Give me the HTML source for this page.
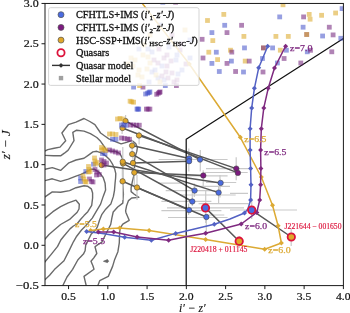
<!DOCTYPE html>
<html><head><meta charset="utf-8"><style>
html,body{margin:0;padding:0;background:#fff;}
body{width:350px;height:313px;overflow:hidden;}
svg{display:block;will-change:transform;}
text{font-family:"Liberation Serif",serif;}
</style></head><body>
<svg width="350" height="313" viewBox="0 0 350 313"><g opacity="0.999">
<defs><clipPath id="ax"><rect x="45.0" y="3.45" width="298.4" height="282.15000000000003"/></clipPath></defs>
<g clip-path="url(#ax)"><polyline points="44.6,151.2 47.8,149.6 54.2,148.3 60.0,147.1 65.7,140.7 61.9,133.0 68.3,124.7 76.0,122.1 84.0,118.5 89.8,121.5 94.9,124.7 100.6,133.0 105.1,136.2 108.9,138.8 114.7,141.3 121.1,143.9 126.5,142.3 132.0,140.5 135.7,143.6 137.4,147.5 136.8,151.4 135.2,156.5 134.3,162.0 134.5,168.0 134.0,175.0 132.4,181.4 131.1,187.8 131.1,191.6 134.3,194.2 138.8,197.4 131.7,198.0 128.5,200.6 126.6,205.7 125.6,210.8 126.0,212.7 129.2,220.3 122.8,224.2 120.2,228.0 119.6,233.0 119.3,242.8 117.9,251.7 114.7,259.4 112.6,266.4 108.3,276.4 99.7,280.7 97.7,286.0" fill="none" stroke="#6a6a6a" stroke-width="1.4" stroke-linejoin="round" stroke-linecap="round" /><polyline points="44.6,155.4 53.6,155.8 60.6,155.8 64.4,153.2 67.6,150.6 68.3,150.0 74.0,140.7 72.8,132.4 76.6,130.2 84.0,131.1 90.4,133.6 96.8,137.5 100.6,141.3 103.8,145.8 106.4,150.0 110.0,151.0 115.6,151.5 120.0,153.7 122.3,158.1 122.6,165.0 122.6,175.0 122.8,185.2 123.4,194.2 122.8,203.1 117.7,207.0 113.2,212.0 111.9,217.8 110.7,224.5 107.9,230.0 104.5,236.8 101.7,242.4 97.8,244.6 95.0,246.8 96.2,251.3 96.8,253.5 93.6,258.1 91.0,261.3 92.9,265.8 94.0,269.3 84.0,276.4 86.3,286.0" fill="none" stroke="#6a6a6a" stroke-width="1.4" stroke-linejoin="round" stroke-linecap="round" /><polyline points="44.6,169.4 52.3,167.6 60.6,170.4 68.9,162.8 76.0,160.0 84.0,158.3 88.5,155.1 92.9,151.9 96.8,151.3 101.9,153.2 106.4,156.4 110.0,160.0 112.8,164.7 114.7,169.2 115.8,173.6 115.6,178.0 115.1,182.7 114.5,190.3 113.4,196.4 110.8,204.1 105.7,209.2 101.9,214.3 99.5,220.2 97.5,226.6 95.6,230.0 91.3,233.9 88.5,239.5 85.7,245.1 85.1,250.7 83.4,254.1 80.1,257.4 77.8,260.0 72.6,269.3 67.0,277.0 62.6,286.0" fill="none" stroke="#6a6a6a" stroke-width="1.4" stroke-linejoin="round" stroke-linecap="round" /><polyline points="44.6,180.7 52.3,178.8 60.6,181.3 68.3,179.1 76.0,176.2 81.0,174.3 86.0,172.0 91.0,169.2 94.2,169.2 99.3,172.4 103.2,177.5 105.1,183.2 105.6,190.0 103.2,196.4 100.6,204.1 96.1,211.7 92.3,218.1 88.5,222.5 85.0,226.5 81.5,230.0 76.7,236.2 73.4,241.8 69.6,249.6 64.0,260.8 54.4,269.6 49.6,275.2 44.6,280.0" fill="none" stroke="#6a6a6a" stroke-width="1.4" stroke-linejoin="round" stroke-linecap="round" /><polyline points="44.6,197.2 52.3,191.9 60.6,192.3 69.6,190.6 76.0,187.7 84.0,185.8 87.5,186.2 91.3,188.8 92.6,193.0 92.6,198.0 91.7,205.3 87.8,211.7 84.0,215.6 80.7,219.2 76.9,224.0 73.4,226.0 70.0,228.9 64.0,236.0 60.8,240.0 57.6,246.4 51.2,254.4 44.6,262.4" fill="none" stroke="#6a6a6a" stroke-width="1.4" stroke-linejoin="round" stroke-linecap="round" /><polyline points="44.6,218.6 52.9,211.7 60.6,206.6 68.3,202.8 76.0,200.2 79.3,204.2 79.0,209.0 77.0,212.5 74.0,215.3 69.6,219.4 60.6,224.5 54.2,230.0 49.0,234.5 44.6,239.5" fill="none" stroke="#6a6a6a" stroke-width="1.4" stroke-linejoin="round" stroke-linecap="round" /><path d="M103.5,261.3 L107.5,259.6 L108.6,261.3 L107.5,262.6Z" fill="#666" stroke="#666" stroke-width="0.8"/><line x1="158.6" y1="159.5" x2="227.6" y2="159.5" stroke="#c9c9c9" stroke-width="1.2"/><line x1="206" y1="168.7" x2="249" y2="168.7" stroke="#c9c9c9" stroke-width="1.2"/><line x1="204.6" y1="172.5" x2="247.7" y2="172.5" stroke="#c9c9c9" stroke-width="1.2"/><line x1="177.3" y1="175.9" x2="227.6" y2="175.9" stroke="#c9c9c9" stroke-width="1.2"/><line x1="206" y1="182.5" x2="236.2" y2="182.5" stroke="#c9c9c9" stroke-width="1.2"/><line x1="158.6" y1="183.1" x2="184.5" y2="183.1" stroke="#c9c9c9" stroke-width="1.2"/><line x1="194.3" y1="186.4" x2="230" y2="186.4" stroke="#c9c9c9" stroke-width="1.2"/><line x1="165.7" y1="190.7" x2="215.7" y2="190.7" stroke="#c9c9c9" stroke-width="1.2"/><line x1="180" y1="195" x2="235.7" y2="195" stroke="#c9c9c9" stroke-width="1.2"/><line x1="161.4" y1="201.3" x2="211.4" y2="201.3" stroke="#c9c9c9" stroke-width="1.2"/><line x1="198.6" y1="203.6" x2="248.6" y2="203.6" stroke="#c9c9c9" stroke-width="1.2"/><line x1="167" y1="207.9" x2="244" y2="207.9" stroke="#c9c9c9" stroke-width="1.2"/><line x1="161.4" y1="210.7" x2="221.4" y2="210.7" stroke="#c9c9c9" stroke-width="1.2"/><line x1="230" y1="210" x2="297" y2="210" stroke="#c9c9c9" stroke-width="1.2"/><line x1="205.7" y1="215" x2="224.3" y2="215" stroke="#c9c9c9" stroke-width="1.2"/><line x1="168" y1="217.5" x2="227.6" y2="217.5" stroke="#c9c9c9" stroke-width="1.2"/><line x1="230" y1="193.4" x2="248" y2="193.4" stroke="#c9c9c9" stroke-width="1.2"/><line x1="188.8" y1="148.6" x2="188.8" y2="171.6" stroke="#c9c9c9" stroke-width="1.2"/><line x1="200.3" y1="150" x2="200.3" y2="171.6" stroke="#c9c9c9" stroke-width="1.2"/><line x1="236.2" y1="157.2" x2="236.2" y2="180.2" stroke="#c9c9c9" stroke-width="1.2"/><line x1="203.2" y1="170.2" x2="203.2" y2="186" stroke="#c9c9c9" stroke-width="1.2"/><line x1="220" y1="175" x2="220" y2="197.5" stroke="#c9c9c9" stroke-width="1.2"/><line x1="218.6" y1="186.4" x2="218.6" y2="203.6" stroke="#c9c9c9" stroke-width="1.2"/><line x1="194.3" y1="183.6" x2="194.3" y2="197" stroke="#c9c9c9" stroke-width="1.2"/><line x1="192.3" y1="192" x2="192.3" y2="206" stroke="#c9c9c9" stroke-width="1.2"/><line x1="188.6" y1="203.6" x2="188.6" y2="215" stroke="#c9c9c9" stroke-width="1.2"/><line x1="205.7" y1="190" x2="205.7" y2="223" stroke="#c9c9c9" stroke-width="1.2"/><line x1="206.3" y1="220" x2="206.3" y2="233.7" stroke="#c9c9c9" stroke-width="1.2"/><line x1="251.7" y1="198" x2="251.7" y2="219" stroke="#c9c9c9" stroke-width="1.2"/><line x1="291.2" y1="229" x2="291.2" y2="246" stroke="#c9c9c9" stroke-width="1.2"/><line x1="239.2" y1="236" x2="239.2" y2="248" stroke="#c9c9c9" stroke-width="1.2"/><line x1="125.6" y1="115" x2="125.6" y2="129" stroke="#c9c9c9" stroke-width="1.2"/><line x1="122.1" y1="122" x2="122.1" y2="134" stroke="#c9c9c9" stroke-width="1.2"/><line x1="139.1" y1="131.7" x2="139.1" y2="144.5" stroke="#c9c9c9" stroke-width="1.2"/><line x1="122.8" y1="147" x2="122.8" y2="178" stroke="#c9c9c9" stroke-width="1.2"/><line x1="133" y1="155" x2="133" y2="170" stroke="#c9c9c9" stroke-width="1.2"/><line x1="132.1" y1="140" x2="132.1" y2="152" stroke="#c9c9c9" stroke-width="1.2"/><line x1="137" y1="175" x2="137" y2="200" stroke="#c9c9c9" stroke-width="1.2"/><line x1="122.6" y1="170" x2="122.6" y2="200" stroke="#c9c9c9" stroke-width="1.2"/><line x1="134.3" y1="168" x2="134.3" y2="185" stroke="#c9c9c9" stroke-width="1.2"/><polyline points="125.5,121.0 200.0,159.6" fill="none" stroke="#575757" stroke-width="1.5" stroke-linejoin="round" stroke-linecap="round" /><polyline points="122.5,128.0 237.9,172.9" fill="none" stroke="#575757" stroke-width="1.5" stroke-linejoin="round" stroke-linecap="round" /><polyline points="139.0,135.5 236.3,168.6" fill="none" stroke="#575757" stroke-width="1.5" stroke-linejoin="round" stroke-linecap="round" /><polyline points="132.1,145.6 189.1,158.4" fill="none" stroke="#575757" stroke-width="1.5" stroke-linejoin="round" stroke-linecap="round" /><polyline points="132.2,154.1 194.6,190.6" fill="none" stroke="#575757" stroke-width="1.5" stroke-linejoin="round" stroke-linecap="round" /><polyline points="122.7,161.7 218.6,192.6" fill="none" stroke="#575757" stroke-width="1.5" stroke-linejoin="round" stroke-linecap="round" /><polyline points="123.0,163.4 192.3,201.5" fill="none" stroke="#575757" stroke-width="1.5" stroke-linejoin="round" stroke-linecap="round" /><polyline points="133.0,163.0 189.1,161.2" fill="none" stroke="#575757" stroke-width="1.5" stroke-linejoin="round" stroke-linecap="round" /><polyline points="134.3,172.6 203.3,175.5" fill="none" stroke="#575757" stroke-width="1.5" stroke-linejoin="round" stroke-linecap="round" /><polyline points="122.6,181.3 189.1,210.1" fill="none" stroke="#575757" stroke-width="1.5" stroke-linejoin="round" stroke-linecap="round" /><polyline points="137.0,187.5 206.4,217.0" fill="none" stroke="#575757" stroke-width="1.5" stroke-linejoin="round" stroke-linecap="round" /><polyline points="101.6,165.0 220.6,182.9" fill="none" stroke="#575757" stroke-width="1.5" stroke-linejoin="round" stroke-linecap="round" /><polyline points="205.5,207.9 239.2,241.2" fill="none" stroke="#575757" stroke-width="1.5" stroke-linejoin="round" stroke-linecap="round" /><polyline points="251.7,210.1 291.3,237.0" fill="none" stroke="#575757" stroke-width="1.5" stroke-linejoin="round" stroke-linecap="round" /><polyline points="186.2,290.0 186.2,139.2 343.4,38.5" fill="none" stroke="#111" stroke-width="1.25" stroke-linejoin="round" stroke-linecap="round" stroke-linecap="butt"/><circle cx="123.0" cy="163.4" r="2.7" fill="#e0a72a" stroke="#444" stroke-width="0.6"/><circle cx="125.5" cy="121.0" r="2.7" fill="#e0a72a" stroke="#444" stroke-width="0.6"/><circle cx="122.5" cy="128.0" r="2.7" fill="#e0a72a" stroke="#444" stroke-width="0.6"/><circle cx="139.0" cy="135.5" r="2.7" fill="#e0a72a" stroke="#444" stroke-width="0.6"/><circle cx="132.1" cy="145.6" r="2.7" fill="#e0a72a" stroke="#444" stroke-width="0.6"/><circle cx="132.2" cy="154.1" r="2.7" fill="#e0a72a" stroke="#444" stroke-width="0.6"/><circle cx="122.7" cy="161.7" r="2.7" fill="#e0a72a" stroke="#444" stroke-width="0.6"/><circle cx="133.0" cy="163.0" r="2.7" fill="#e0a72a" stroke="#444" stroke-width="0.6"/><circle cx="134.3" cy="172.6" r="2.7" fill="#e0a72a" stroke="#444" stroke-width="0.6"/><circle cx="122.6" cy="181.3" r="2.7" fill="#e0a72a" stroke="#444" stroke-width="0.6"/><circle cx="137.0" cy="187.5" r="2.7" fill="#e0a72a" stroke="#444" stroke-width="0.6"/><circle cx="101.6" cy="165.0" r="2.7" fill="#e0a72a" stroke="#444" stroke-width="0.6"/><circle cx="189.1" cy="158.4" r="2.7" fill="#4a6be0" stroke="#444" stroke-width="0.6"/><circle cx="189.1" cy="161.2" r="2.7" fill="#4a6be0" stroke="#444" stroke-width="0.6"/><circle cx="200.0" cy="159.6" r="2.7" fill="#4a6be0" stroke="#444" stroke-width="0.6"/><circle cx="220.6" cy="182.9" r="2.7" fill="#4a6be0" stroke="#444" stroke-width="0.6"/><circle cx="194.6" cy="190.6" r="2.7" fill="#4a6be0" stroke="#444" stroke-width="0.6"/><circle cx="218.6" cy="192.6" r="2.7" fill="#4a6be0" stroke="#444" stroke-width="0.6"/><circle cx="192.3" cy="201.5" r="2.7" fill="#4a6be0" stroke="#444" stroke-width="0.6"/><circle cx="189.1" cy="210.1" r="2.7" fill="#4a6be0" stroke="#444" stroke-width="0.6"/><circle cx="206.4" cy="217.0" r="2.7" fill="#4a6be0" stroke="#444" stroke-width="0.6"/><circle cx="203.3" cy="175.5" r="2.7" fill="#7c1a80" stroke="#444" stroke-width="0.6"/><circle cx="236.3" cy="168.6" r="2.7" fill="#7c1a80" stroke="#444" stroke-width="0.6"/><circle cx="237.9" cy="172.9" r="2.7" fill="#7c1a80" stroke="#444" stroke-width="0.6"/><rect x="221.4" y="12.0" width="4.8" height="4.8" fill="#daa520" fill-opacity="0.55"/><rect x="205.1" y="18.1" width="4.8" height="4.8" fill="#daa520" fill-opacity="0.55"/><rect x="222.3" y="22.9" width="4.8" height="4.8" fill="#4150c8" fill-opacity="0.55"/><rect x="239.2" y="22.9" width="4.8" height="4.8" fill="#701e78" fill-opacity="0.55"/><rect x="209.5" y="30.2" width="4.8" height="4.8" fill="#4150c8" fill-opacity="0.55"/><rect x="224.6" y="30.2" width="4.8" height="4.8" fill="#701e78" fill-opacity="0.55"/><rect x="241.5" y="34.0" width="4.8" height="4.8" fill="#daa520" fill-opacity="0.55"/><rect x="199.7" y="36.9" width="4.8" height="4.8" fill="#701e78" fill-opacity="0.55"/><rect x="210.4" y="38.2" width="4.8" height="4.8" fill="#daa520" fill-opacity="0.55"/><rect x="206.4" y="49.8" width="4.8" height="4.8" fill="#daa520" fill-opacity="0.55"/><rect x="213.9" y="49.8" width="4.8" height="4.8" fill="#4150c8" fill-opacity="0.55"/><rect x="228.1" y="47.8" width="4.8" height="4.8" fill="#daa520" fill-opacity="0.55"/><rect x="229.4" y="49.7" width="4.8" height="4.8" fill="#701e78" fill-opacity="0.55"/><rect x="242.1" y="45.5" width="4.8" height="4.8" fill="#4150c8" fill-opacity="0.55"/><rect x="200.6" y="55.6" width="4.8" height="4.8" fill="#701e78" fill-opacity="0.55"/><rect x="215.2" y="57.2" width="4.8" height="4.8" fill="#daa520" fill-opacity="0.55"/><rect x="280.6" y="2.4" width="4.8" height="4.8" fill="#daa520" fill-opacity="0.55"/><rect x="277.3" y="14.5" width="4.8" height="4.8" fill="#4150c8" fill-opacity="0.55"/><rect x="301.2" y="14.5" width="4.8" height="4.8" fill="#701e78" fill-opacity="0.55"/><rect x="300.7" y="24.8" width="4.8" height="4.8" fill="#4150c8" fill-opacity="0.55"/><rect x="273.5" y="34.0" width="4.8" height="4.8" fill="#daa520" fill-opacity="0.55"/><rect x="285.9" y="34.0" width="4.8" height="4.8" fill="#daa520" fill-opacity="0.55"/><rect x="304.3" y="32.1" width="4.8" height="4.8" fill="#701e78" fill-opacity="0.55"/><rect x="304.3" y="32.1" width="4.8" height="4.8" fill="#daa520" fill-opacity="0.55"/><rect x="261.0" y="45.5" width="4.8" height="4.8" fill="#daa520" fill-opacity="0.55"/><rect x="261.0" y="45.5" width="4.8" height="4.8" fill="#701e78" fill-opacity="0.55"/><rect x="270.2" y="45.5" width="4.8" height="4.8" fill="#4150c8" fill-opacity="0.55"/><rect x="277.9" y="47.8" width="4.8" height="4.8" fill="#daa520" fill-opacity="0.55"/><rect x="284.0" y="47.8" width="4.8" height="4.8" fill="#4150c8" fill-opacity="0.55"/><rect x="281.7" y="56.1" width="4.8" height="4.8" fill="#701e78" fill-opacity="0.55"/><rect x="304.9" y="49.4" width="4.8" height="4.8" fill="#4150c8" fill-opacity="0.55"/><rect x="260.1" y="56.1" width="4.8" height="4.8" fill="#4150c8" fill-opacity="0.55"/><rect x="306.8" y="12.0" width="4.8" height="4.8" fill="#daa520" fill-opacity="0.55"/><rect x="307.7" y="16.8" width="4.8" height="4.8" fill="#daa520" fill-opacity="0.55"/><rect x="319.2" y="12.9" width="4.8" height="4.8" fill="#daa520" fill-opacity="0.55"/><rect x="333.2" y="10.6" width="4.8" height="4.8" fill="#daa520" fill-opacity="0.55"/><rect x="339.7" y="6.2" width="4.8" height="4.8" fill="#4150c8" fill-opacity="0.55"/><rect x="326.9" y="24.8" width="4.8" height="4.8" fill="#701e78" fill-opacity="0.55"/><rect x="320.2" y="33.6" width="4.8" height="4.8" fill="#4150c8" fill-opacity="0.55"/><rect x="330.7" y="32.5" width="4.8" height="4.8" fill="#701e78" fill-opacity="0.55"/><rect x="338.4" y="35.9" width="4.8" height="4.8" fill="#4150c8" fill-opacity="0.55"/><rect x="308.1" y="47.9" width="4.8" height="4.8" fill="#701e78" fill-opacity="0.55"/><rect x="329.4" y="49.4" width="4.8" height="4.8" fill="#701e78" fill-opacity="0.55"/><rect x="209.5" y="61.0" width="4.8" height="4.8" fill="#4150c8" fill-opacity="0.55"/><rect x="224.6" y="61.0" width="4.8" height="4.8" fill="#701e78" fill-opacity="0.55"/><rect x="229.0" y="58.7" width="4.8" height="4.8" fill="#4150c8" fill-opacity="0.55"/><rect x="242.8" y="58.7" width="4.8" height="4.8" fill="#daa520" fill-opacity="0.55"/><rect x="246.8" y="58.7" width="4.8" height="4.8" fill="#701e78" fill-opacity="0.55"/><rect x="216.9" y="69.1" width="4.8" height="4.8" fill="#4150c8" fill-opacity="0.55"/><rect x="233.2" y="69.1" width="4.8" height="4.8" fill="#701e78" fill-opacity="0.55"/><rect x="241.1" y="69.6" width="4.8" height="4.8" fill="#4150c8" fill-opacity="0.55"/><rect x="260.6" y="69.6" width="4.8" height="4.8" fill="#701e78" fill-opacity="0.55"/><rect x="275.0" y="60.6" width="4.8" height="4.8" fill="#4150c8" fill-opacity="0.55"/><rect x="298.4" y="60.6" width="4.8" height="4.8" fill="#701e78" fill-opacity="0.55"/><rect x="160.4" y="-0.2" width="4.8" height="4.8" fill="#4150c8" fill-opacity="0.55"/><rect x="173.2" y="-0.2" width="4.8" height="4.8" fill="#701e78" fill-opacity="0.55"/><rect x="131.2" y="84.7" width="4.8" height="4.8" fill="#4150c8" fill-opacity="0.55"/><rect x="162.9" y="83.2" width="4.8" height="4.8" fill="#4150c8" fill-opacity="0.55"/><rect x="143.2" y="91.6" width="4.8" height="4.8" fill="#4150c8" fill-opacity="0.55"/><rect x="147.5" y="89.5" width="4.8" height="4.8" fill="#4150c8" fill-opacity="0.55"/><rect x="145.2" y="90.8" width="4.8" height="4.8" fill="#4150c8" fill-opacity="0.55"/><rect x="146.6" y="90.2" width="4.8" height="4.8" fill="#4150c8" fill-opacity="0.55"/><rect x="134.6" y="106.7" width="4.8" height="4.8" fill="#4150c8" fill-opacity="0.55"/><rect x="136.3" y="106.7" width="4.8" height="4.8" fill="#4150c8" fill-opacity="0.55"/><rect x="135.5" y="106.7" width="4.8" height="4.8" fill="#4150c8" fill-opacity="0.55"/><rect x="119.1" y="122.6" width="4.8" height="4.8" fill="#4150c8" fill-opacity="0.55"/><rect x="121.6" y="122.6" width="4.8" height="4.8" fill="#4150c8" fill-opacity="0.55"/><rect x="123.8" y="122.9" width="4.8" height="4.8" fill="#4150c8" fill-opacity="0.55"/><rect x="110.1" y="136.9" width="4.8" height="4.8" fill="#4150c8" fill-opacity="0.55"/><rect x="113.6" y="136.9" width="4.8" height="4.8" fill="#4150c8" fill-opacity="0.55"/><rect x="100.1" y="151.1" width="4.8" height="4.8" fill="#4150c8" fill-opacity="0.55"/><rect x="102.6" y="151.4" width="4.8" height="4.8" fill="#4150c8" fill-opacity="0.55"/><rect x="91.1" y="161.8" width="4.8" height="4.8" fill="#4150c8" fill-opacity="0.55"/><rect x="83.4" y="169.1" width="4.8" height="4.8" fill="#4150c8" fill-opacity="0.55"/><rect x="78.2" y="175.6" width="4.8" height="4.8" fill="#4150c8" fill-opacity="0.55"/><rect x="78.2" y="179.1" width="4.8" height="4.8" fill="#4150c8" fill-opacity="0.55"/><rect x="140.6" y="84.7" width="4.8" height="4.8" fill="#701e78" fill-opacity="0.55"/><rect x="174.0" y="83.2" width="4.8" height="4.8" fill="#701e78" fill-opacity="0.55"/><rect x="154.3" y="91.9" width="4.8" height="4.8" fill="#701e78" fill-opacity="0.55"/><rect x="157.7" y="89.5" width="4.8" height="4.8" fill="#701e78" fill-opacity="0.55"/><rect x="155.9" y="90.8" width="4.8" height="4.8" fill="#701e78" fill-opacity="0.55"/><rect x="157.1" y="90.0" width="4.8" height="4.8" fill="#701e78" fill-opacity="0.55"/><rect x="144.0" y="106.7" width="4.8" height="4.8" fill="#701e78" fill-opacity="0.55"/><rect x="147.5" y="106.7" width="4.8" height="4.8" fill="#701e78" fill-opacity="0.55"/><rect x="145.7" y="106.7" width="4.8" height="4.8" fill="#701e78" fill-opacity="0.55"/><rect x="128.1" y="122.6" width="4.8" height="4.8" fill="#701e78" fill-opacity="0.55"/><rect x="131.1" y="122.6" width="4.8" height="4.8" fill="#701e78" fill-opacity="0.55"/><rect x="134.1" y="122.8" width="4.8" height="4.8" fill="#701e78" fill-opacity="0.55"/><rect x="136.9" y="122.8" width="4.8" height="4.8" fill="#701e78" fill-opacity="0.55"/><rect x="119.1" y="135.6" width="4.8" height="4.8" fill="#701e78" fill-opacity="0.55"/><rect x="122.1" y="136.1" width="4.8" height="4.8" fill="#701e78" fill-opacity="0.55"/><rect x="125.1" y="136.6" width="4.8" height="4.8" fill="#701e78" fill-opacity="0.55"/><rect x="127.1" y="136.9" width="4.8" height="4.8" fill="#701e78" fill-opacity="0.55"/><rect x="107.1" y="147.6" width="4.8" height="4.8" fill="#701e78" fill-opacity="0.55"/><rect x="110.1" y="148.6" width="4.8" height="4.8" fill="#701e78" fill-opacity="0.55"/><rect x="113.1" y="149.6" width="4.8" height="4.8" fill="#701e78" fill-opacity="0.55"/><rect x="116.1" y="150.6" width="4.8" height="4.8" fill="#701e78" fill-opacity="0.55"/><rect x="99.1" y="157.6" width="4.8" height="4.8" fill="#701e78" fill-opacity="0.55"/><rect x="101.6" y="159.1" width="4.8" height="4.8" fill="#701e78" fill-opacity="0.55"/><rect x="104.1" y="160.6" width="4.8" height="4.8" fill="#701e78" fill-opacity="0.55"/><rect x="101.6" y="162.6" width="4.8" height="4.8" fill="#701e78" fill-opacity="0.55"/><rect x="92.6" y="167.1" width="4.8" height="4.8" fill="#701e78" fill-opacity="0.55"/><rect x="94.6" y="169.6" width="4.8" height="4.8" fill="#701e78" fill-opacity="0.55"/><rect x="96.9" y="172.1" width="4.8" height="4.8" fill="#701e78" fill-opacity="0.55"/><rect x="94.1" y="172.6" width="4.8" height="4.8" fill="#701e78" fill-opacity="0.55"/><rect x="87.1" y="176.6" width="4.8" height="4.8" fill="#701e78" fill-opacity="0.55"/><rect x="89.1" y="179.1" width="4.8" height="4.8" fill="#701e78" fill-opacity="0.55"/><rect x="90.6" y="179.6" width="4.8" height="4.8" fill="#701e78" fill-opacity="0.55"/><rect x="137.2" y="83.2" width="4.8" height="4.8" fill="#daa520" fill-opacity="0.55"/><rect x="127.7" y="98.8" width="4.8" height="4.8" fill="#daa520" fill-opacity="0.55"/><rect x="131.2" y="99.8" width="4.8" height="4.8" fill="#daa520" fill-opacity="0.55"/><rect x="129.4" y="99.4" width="4.8" height="4.8" fill="#daa520" fill-opacity="0.55"/><rect x="115.1" y="116.6" width="4.8" height="4.8" fill="#daa520" fill-opacity="0.55"/><rect x="117.6" y="116.1" width="4.8" height="4.8" fill="#daa520" fill-opacity="0.55"/><rect x="120.1" y="116.6" width="4.8" height="4.8" fill="#daa520" fill-opacity="0.55"/><rect x="107.1" y="131.6" width="4.8" height="4.8" fill="#daa520" fill-opacity="0.55"/><rect x="110.1" y="131.6" width="4.8" height="4.8" fill="#daa520" fill-opacity="0.55"/><rect x="113.6" y="132.1" width="4.8" height="4.8" fill="#daa520" fill-opacity="0.55"/><rect x="99.1" y="145.1" width="4.8" height="4.8" fill="#daa520" fill-opacity="0.55"/><rect x="99.4" y="147.6" width="4.8" height="4.8" fill="#daa520" fill-opacity="0.55"/><rect x="101.6" y="146.6" width="4.8" height="4.8" fill="#daa520" fill-opacity="0.55"/><rect x="103.1" y="148.1" width="4.8" height="4.8" fill="#daa520" fill-opacity="0.55"/><rect x="92.1" y="155.6" width="4.8" height="4.8" fill="#daa520" fill-opacity="0.55"/><rect x="92.6" y="158.6" width="4.8" height="4.8" fill="#daa520" fill-opacity="0.55"/><rect x="94.6" y="160.1" width="4.8" height="4.8" fill="#daa520" fill-opacity="0.55"/><rect x="93.1" y="161.6" width="4.8" height="4.8" fill="#daa520" fill-opacity="0.55"/><rect x="86.1" y="164.1" width="4.8" height="4.8" fill="#daa520" fill-opacity="0.55"/><rect x="86.6" y="167.1" width="4.8" height="4.8" fill="#daa520" fill-opacity="0.55"/><rect x="87.6" y="169.1" width="4.8" height="4.8" fill="#daa520" fill-opacity="0.55"/><rect x="86.1" y="169.6" width="4.8" height="4.8" fill="#daa520" fill-opacity="0.55"/><rect x="80.6" y="173.6" width="4.8" height="4.8" fill="#daa520" fill-opacity="0.55"/><rect x="81.6" y="176.6" width="4.8" height="4.8" fill="#daa520" fill-opacity="0.55"/><rect x="82.6" y="179.1" width="4.8" height="4.8" fill="#daa520" fill-opacity="0.55"/><rect x="83.6" y="179.6" width="4.8" height="4.8" fill="#daa520" fill-opacity="0.55"/><rect x="128.6" y="55.6" width="4.8" height="4.8" fill="#daa520" fill-opacity="0.55"/><rect x="132.6" y="57.6" width="4.8" height="4.8" fill="#daa520" fill-opacity="0.55"/><rect x="125.6" y="61.6" width="4.8" height="4.8" fill="#daa520" fill-opacity="0.55"/><rect x="130.6" y="63.6" width="4.8" height="4.8" fill="#daa520" fill-opacity="0.55"/><rect x="135.6" y="72.6" width="4.8" height="4.8" fill="#daa520" fill-opacity="0.55"/><rect x="139.6" y="74.6" width="4.8" height="4.8" fill="#daa520" fill-opacity="0.55"/><rect x="149.6" y="69.6" width="4.8" height="4.8" fill="#4150c8" fill-opacity="0.55"/><rect x="155.6" y="75.6" width="4.8" height="4.8" fill="#4150c8" fill-opacity="0.55"/><rect x="161.6" y="77.6" width="4.8" height="4.8" fill="#4150c8" fill-opacity="0.55"/><rect x="165.6" y="75.6" width="4.8" height="4.8" fill="#701e78" fill-opacity="0.55"/><rect x="171.6" y="79.6" width="4.8" height="4.8" fill="#701e78" fill-opacity="0.55"/><rect x="179.6" y="67.6" width="4.8" height="4.8" fill="#4150c8" fill-opacity="0.55"/><rect x="183.6" y="61.6" width="4.8" height="4.8" fill="#701e78" fill-opacity="0.55"/><rect x="141.6" y="42.6" width="4.8" height="4.8" fill="#daa520" fill-opacity="0.55"/><rect x="149.6" y="49.6" width="4.8" height="4.8" fill="#4150c8" fill-opacity="0.55"/><rect x="161.6" y="55.6" width="4.8" height="4.8" fill="#701e78" fill-opacity="0.55"/><rect x="173.6" y="57.6" width="4.8" height="4.8" fill="#4150c8" fill-opacity="0.55"/><rect x="178.6" y="41.6" width="4.8" height="4.8" fill="#701e78" fill-opacity="0.55"/><rect x="136.6" y="46.6" width="4.8" height="4.8" fill="#4150c8" fill-opacity="0.55"/><rect x="145.6" y="46.6" width="4.8" height="4.8" fill="#4150c8" fill-opacity="0.55"/><rect x="156.6" y="46.6" width="4.8" height="4.8" fill="#701e78" fill-opacity="0.55"/><rect x="166.6" y="44.6" width="4.8" height="4.8" fill="#4150c8" fill-opacity="0.55"/><rect x="177.6" y="47.6" width="4.8" height="4.8" fill="#701e78" fill-opacity="0.55"/><rect x="174.6" y="52.6" width="4.8" height="4.8" fill="#4150c8" fill-opacity="0.55"/><rect x="164.6" y="52.6" width="4.8" height="4.8" fill="#701e78" fill-opacity="0.55"/><rect x="140.6" y="52.6" width="4.8" height="4.8" fill="#daa520" fill-opacity="0.55"/><rect x="145.6" y="54.6" width="4.8" height="4.8" fill="#daa520" fill-opacity="0.55"/><rect x="151.6" y="57.6" width="4.8" height="4.8" fill="#701e78" fill-opacity="0.55"/><rect x="187.6" y="55.6" width="4.8" height="4.8" fill="#4150c8" fill-opacity="0.55"/><rect x="147.6" y="60.6" width="4.8" height="4.8" fill="#daa520" fill-opacity="0.55"/><rect x="155.6" y="60.6" width="4.8" height="4.8" fill="#701e78" fill-opacity="0.55"/><rect x="168.6" y="58.6" width="4.8" height="4.8" fill="#701e78" fill-opacity="0.55"/><rect x="159.6" y="63.6" width="4.8" height="4.8" fill="#4150c8" fill-opacity="0.55"/><rect x="164.6" y="63.6" width="4.8" height="4.8" fill="#701e78" fill-opacity="0.55"/><rect x="136.6" y="67.6" width="4.8" height="4.8" fill="#daa520" fill-opacity="0.55"/><rect x="144.6" y="66.6" width="4.8" height="4.8" fill="#daa520" fill-opacity="0.55"/><rect x="152.6" y="67.6" width="4.8" height="4.8" fill="#4150c8" fill-opacity="0.55"/><rect x="163.6" y="69.6" width="4.8" height="4.8" fill="#701e78" fill-opacity="0.55"/><rect x="169.6" y="70.6" width="4.8" height="4.8" fill="#701e78" fill-opacity="0.55"/><rect x="175.6" y="71.6" width="4.8" height="4.8" fill="#4150c8" fill-opacity="0.55"/><rect x="153.6" y="72.6" width="4.8" height="4.8" fill="#daa520" fill-opacity="0.55"/><rect x="159.6" y="73.6" width="4.8" height="4.8" fill="#701e78" fill-opacity="0.55"/><rect x="146.6" y="79.6" width="4.8" height="4.8" fill="#4150c8" fill-opacity="0.55"/><rect x="157.6" y="79.6" width="4.8" height="4.8" fill="#daa520" fill-opacity="0.55"/><rect x="174.6" y="77.6" width="4.8" height="4.8" fill="#701e78" fill-opacity="0.55"/><rect x="182.6" y="27.6" width="4.8" height="4.8" fill="#daa520" fill-opacity="0.55"/><rect x="187.6" y="37.6" width="4.8" height="4.8" fill="#4150c8" fill-opacity="0.55"/><rect x="169.6" y="32.6" width="4.8" height="4.8" fill="#701e78" fill-opacity="0.55"/><rect x="157.6" y="22.6" width="4.8" height="4.8" fill="#4150c8" fill-opacity="0.55"/><rect x="147.6" y="32.6" width="4.8" height="4.8" fill="#daa520" fill-opacity="0.55"/><polyline points="90.6,230.4 103.4,229.1 119.7,227.9 149.1,230.6 205.6,239.4 264.7,249.3 281.4,243.0 278.1,225.8 272.5,205.2 261.3,177.0 240.3,137.3 189.3,64.0 142.0,3.0" fill="none" stroke="#dcaa34" stroke-width="1.5" stroke-linejoin="round" stroke-linecap="round" /><path d="M90.6,227.9 L93.1,230.4 L90.6,232.9 L88.1,230.4Z" fill="#dcaa34"/><path d="M103.4,226.6 L105.9,229.1 L103.4,231.6 L100.9,229.1Z" fill="#dcaa34"/><path d="M119.7,225.4 L122.2,227.9 L119.7,230.4 L117.2,227.9Z" fill="#dcaa34"/><path d="M149.1,228.1 L151.6,230.6 L149.1,233.1 L146.6,230.6Z" fill="#dcaa34"/><path d="M205.6,236.9 L208.1,239.4 L205.6,241.9 L203.1,239.4Z" fill="#dcaa34"/><path d="M264.7,246.8 L267.2,249.3 L264.7,251.8 L262.2,249.3Z" fill="#dcaa34"/><path d="M281.4,240.5 L283.9,243.0 L281.4,245.5 L278.9,243.0Z" fill="#dcaa34"/><path d="M278.1,223.3 L280.6,225.8 L278.1,228.3 L275.6,225.8Z" fill="#dcaa34"/><path d="M272.5,202.7 L275.0,205.2 L272.5,207.7 L270.0,205.2Z" fill="#dcaa34"/><path d="M261.3,174.5 L263.8,177.0 L261.3,179.5 L258.8,177.0Z" fill="#dcaa34"/><path d="M240.3,134.8 L242.8,137.3 L240.3,139.8 L237.8,137.3Z" fill="#dcaa34"/><path d="M189.3,61.5 L191.8,64.0 L189.3,66.5 L186.8,64.0Z" fill="#dcaa34"/><polyline points="86.6,231.6 104.3,233.8 124.6,237.2 151.4,240.3 175.7,233.4 214.3,224.3 230.0,219.0 244.5,213.0 247.9,209.0 250.6,200.0 251.0,184.8 250.6,168.5 250.1,150.0 250.1,128.7 251.7,107.9 254.4,88.3 258.7,67.8 267.7,46.2" fill="none" stroke="#5361c4" stroke-width="1.5" stroke-linejoin="round" stroke-linecap="round" /><path d="M86.6,229.1 L89.1,231.6 L86.6,234.1 L84.1,231.6Z" fill="#5361c4"/><path d="M124.6,234.7 L127.1,237.2 L124.6,239.7 L122.1,237.2Z" fill="#5361c4"/><path d="M151.4,237.8 L153.9,240.3 L151.4,242.8 L148.9,240.3Z" fill="#5361c4"/><path d="M175.7,230.9 L178.2,233.4 L175.7,235.9 L173.2,233.4Z" fill="#5361c4"/><path d="M214.3,221.8 L216.8,224.3 L214.3,226.8 L211.8,224.3Z" fill="#5361c4"/><path d="M244.5,210.5 L247.0,213.0 L244.5,215.5 L242.0,213.0Z" fill="#5361c4"/><path d="M250.6,197.5 L253.1,200.0 L250.6,202.5 L248.1,200.0Z" fill="#5361c4"/><path d="M251.0,182.3 L253.5,184.8 L251.0,187.3 L248.5,184.8Z" fill="#5361c4"/><path d="M250.6,166.0 L253.1,168.5 L250.6,171.0 L248.1,168.5Z" fill="#5361c4"/><path d="M250.1,147.5 L252.6,150.0 L250.1,152.5 L247.6,150.0Z" fill="#5361c4"/><path d="M250.1,126.2 L252.6,128.7 L250.1,131.2 L247.6,128.7Z" fill="#5361c4"/><path d="M251.7,105.4 L254.2,107.9 L251.7,110.4 L249.2,107.9Z" fill="#5361c4"/><path d="M254.4,85.8 L256.9,88.3 L254.4,90.8 L251.9,88.3Z" fill="#5361c4"/><path d="M258.7,65.3 L261.2,67.8 L258.7,70.3 L256.2,67.8Z" fill="#5361c4"/><path d="M267.7,43.7 L270.2,46.2 L267.7,48.7 L265.2,46.2Z" fill="#5361c4"/><polyline points="98.3,232.1 113.7,232.1 137.1,237.1 168.6,240.3 187.1,236.6 205.6,233.3 241.2,224.0 256.8,212.4 259.7,200.0 260.6,184.8 260.9,168.5 260.6,150.0 261.3,128.7 263.8,107.9 268.2,88.3 274.5,68.0 285.6,46.2" fill="none" stroke="#7f2a80" stroke-width="1.5" stroke-linejoin="round" stroke-linecap="round" /><path d="M98.3,229.6 L100.8,232.1 L98.3,234.6 L95.8,232.1Z" fill="#7f2a80"/><path d="M113.7,229.6 L116.2,232.1 L113.7,234.6 L111.2,232.1Z" fill="#7f2a80"/><path d="M137.1,234.6 L139.6,237.1 L137.1,239.6 L134.6,237.1Z" fill="#7f2a80"/><path d="M168.6,237.8 L171.1,240.3 L168.6,242.8 L166.1,240.3Z" fill="#7f2a80"/><path d="M205.6,230.8 L208.1,233.3 L205.6,235.8 L203.1,233.3Z" fill="#7f2a80"/><path d="M241.2,221.5 L243.7,224.0 L241.2,226.5 L238.7,224.0Z" fill="#7f2a80"/><path d="M256.8,209.9 L259.3,212.4 L256.8,214.9 L254.3,212.4Z" fill="#7f2a80"/><path d="M259.7,197.5 L262.2,200.0 L259.7,202.5 L257.2,200.0Z" fill="#7f2a80"/><path d="M260.6,182.3 L263.1,184.8 L260.6,187.3 L258.1,184.8Z" fill="#7f2a80"/><path d="M260.9,166.0 L263.4,168.5 L260.9,171.0 L258.4,168.5Z" fill="#7f2a80"/><path d="M260.6,147.5 L263.1,150.0 L260.6,152.5 L258.1,150.0Z" fill="#7f2a80"/><path d="M261.3,126.2 L263.8,128.7 L261.3,131.2 L258.8,128.7Z" fill="#7f2a80"/><path d="M263.8,105.4 L266.3,107.9 L263.8,110.4 L261.3,107.9Z" fill="#7f2a80"/><path d="M268.2,85.8 L270.7,88.3 L268.2,90.8 L265.7,88.3Z" fill="#7f2a80"/><path d="M274.5,65.5 L277.0,68.0 L274.5,70.5 L272.0,68.0Z" fill="#7f2a80"/><path d="M285.6,43.7 L288.1,46.2 L285.6,48.7 L283.1,46.2Z" fill="#7f2a80"/><circle cx="205.5" cy="207.9" r="3.7" fill="#4a6be0" stroke="#dc143c" stroke-width="1.8"/><circle cx="251.7" cy="210.1" r="3.7" fill="#4a6be0" stroke="#dc143c" stroke-width="1.8"/><circle cx="239.2" cy="241.2" r="3.7" fill="#e0a72a" stroke="#dc143c" stroke-width="1.8"/><circle cx="291.3" cy="237" r="3.7" fill="#e0a72a" stroke="#dc143c" stroke-width="1.8"/></g><text x="290" y="50.7" fill="#7f2a80" font-size="8.4" stroke="#7f2a80" stroke-width="0.25" textLength="22.5" lengthAdjust="spacingAndGlyphs">z=7.0</text><text x="244.3" y="142.3" fill="#dcaa34" font-size="8.4" stroke="#dcaa34" stroke-width="0.25" textLength="22.099999999999966" lengthAdjust="spacingAndGlyphs">z=6.5</text><text x="264.3" y="154.7" fill="#7f2a80" font-size="8.4" stroke="#7f2a80" stroke-width="0.25" textLength="22.099999999999966" lengthAdjust="spacingAndGlyphs">z=6.5</text><text x="245.1" y="228.7" fill="#7f2a80" font-size="8.4" stroke="#7f2a80" stroke-width="0.25" textLength="22.00000000000003" lengthAdjust="spacingAndGlyphs">z=6.0</text><text x="268.3" y="253.2" fill="#dcaa34" font-size="8.4" stroke="#dcaa34" stroke-width="0.25" textLength="22.30000000000001" lengthAdjust="spacingAndGlyphs">z=6.0</text><text x="75" y="227.2" fill="#dcaa34" font-size="8.4" stroke="#dcaa34" stroke-width="0.25" textLength="22" lengthAdjust="spacingAndGlyphs">z=5.5</text><text x="82.9" y="244.2" fill="#7f2a80" font-size="8.4" stroke="#7f2a80" stroke-width="0.25" textLength="22.19999999999999" lengthAdjust="spacingAndGlyphs">z=5.5</text><text x="284.6" y="228.6" fill="#dc143c" font-size="7.4" textLength="56.89999999999998" lengthAdjust="spacingAndGlyphs" stroke="#dc143c" stroke-width="0.15">J221644 − 001650</text><text x="190.3" y="252.2" fill="#dc143c" font-size="7.4" textLength="57.099999999999994" lengthAdjust="spacingAndGlyphs" stroke="#dc143c" stroke-width="0.15">J220418 + 011145</text><rect x="48.6" y="7.7" width="150.4" height="77.7" rx="2" ry="2" fill="#fff" fill-opacity="0.82" stroke="#d0d0d0" stroke-width="0.9"/><circle cx="61.0" cy="14.7" r="3" fill="#4a6be0" stroke="#555" stroke-width="0.7"/><circle cx="61.0" cy="27.4" r="3" fill="#7c1a80" stroke="#555" stroke-width="0.7"/><circle cx="61.0" cy="40.1" r="3" fill="#e0a72a" stroke="#555" stroke-width="0.7"/><circle cx="61" cy="52.8" r="3.6" fill="#fff" stroke="#dc143c" stroke-width="1.8"/><line x1="52" y1="65.4" x2="70" y2="65.4" stroke="#333" stroke-width="1.4"/><path d="M61.0,63.0 L63.4,65.4 L61.0,67.8 L58.6,65.4Z" fill="#333"/><rect x="58.8" y="75.89999999999999" width="4.4" height="4.4" fill="#a0a0a0"/><text x="76" y="18.3" font-size="10.3" fill="#111" stroke="#111" stroke-width="0.3">CFHTLS+IMS (<tspan font-style="italic">i′</tspan><tspan font-size="7" dy="2">1</tspan><tspan dy="-2">-</tspan><tspan font-style="italic">z′</tspan>-<tspan font-style="italic">J</tspan>)</text><text x="76" y="31.0" font-size="10.3" fill="#111" stroke="#111" stroke-width="0.3">CFHTLS+IMS (<tspan font-style="italic">i′</tspan><tspan font-size="7" dy="2">2</tspan><tspan dy="-2">-</tspan><tspan font-style="italic">z′</tspan>-<tspan font-style="italic">J</tspan>)</text><text x="76" y="43.7" font-size="10.3" fill="#111" stroke="#111" stroke-width="0.3">HSC-SSP+IMS(<tspan font-style="italic">i′</tspan><tspan font-size="7" dy="2">HSC</tspan><tspan dy="-2">-</tspan><tspan font-style="italic">z′</tspan><tspan font-size="7" dy="2">HSC</tspan><tspan dy="-2">-</tspan><tspan font-style="italic">J</tspan>)</text><text x="76" y="56.4" font-size="10.3" fill="#111" stroke="#111" stroke-width="0.3">Quasars</text><text x="76" y="69.0" font-size="10.3" fill="#111" stroke="#111" stroke-width="0.3">Quasar model</text><text x="76" y="81.69999999999999" font-size="10.3" fill="#111" stroke="#111" stroke-width="0.3">Stellar model</text><rect x="45.0" y="3.45" width="298.4" height="282.15000000000003" fill="none" stroke="#1a1a1a" stroke-width="1.0"/><line x1="68.56" y1="285.6" x2="68.56" y2="289.1" stroke="#1a1a1a" stroke-width="1"/><text x="61.16" y="300.4" font-size="11.3" textLength="14.6" lengthAdjust="spacingAndGlyphs" fill="#111" stroke="#111" stroke-width="0.22">0.5</text><line x1="107.82" y1="285.6" x2="107.82" y2="289.1" stroke="#1a1a1a" stroke-width="1"/><text x="100.42" y="300.4" font-size="11.3" textLength="14.6" lengthAdjust="spacingAndGlyphs" fill="#111" stroke="#111" stroke-width="0.22">1.0</text><line x1="147.08" y1="285.6" x2="147.08" y2="289.1" stroke="#1a1a1a" stroke-width="1"/><text x="139.68" y="300.4" font-size="11.3" textLength="14.6" lengthAdjust="spacingAndGlyphs" fill="#111" stroke="#111" stroke-width="0.22">1.5</text><line x1="186.35" y1="285.6" x2="186.35" y2="289.1" stroke="#1a1a1a" stroke-width="1"/><text x="178.95" y="300.4" font-size="11.3" textLength="14.6" lengthAdjust="spacingAndGlyphs" fill="#111" stroke="#111" stroke-width="0.22">2.0</text><line x1="225.61" y1="285.6" x2="225.61" y2="289.1" stroke="#1a1a1a" stroke-width="1"/><text x="218.21" y="300.4" font-size="11.3" textLength="14.6" lengthAdjust="spacingAndGlyphs" fill="#111" stroke="#111" stroke-width="0.22">2.5</text><line x1="264.87" y1="285.6" x2="264.87" y2="289.1" stroke="#1a1a1a" stroke-width="1"/><text x="257.47" y="300.4" font-size="11.3" textLength="14.6" lengthAdjust="spacingAndGlyphs" fill="#111" stroke="#111" stroke-width="0.22">3.0</text><line x1="304.14" y1="285.6" x2="304.14" y2="289.1" stroke="#1a1a1a" stroke-width="1"/><text x="296.74" y="300.4" font-size="11.3" textLength="14.6" lengthAdjust="spacingAndGlyphs" fill="#111" stroke="#111" stroke-width="0.22">3.5</text><line x1="343.40" y1="285.6" x2="343.40" y2="289.1" stroke="#1a1a1a" stroke-width="1"/><text x="336.00" y="300.4" font-size="11.3" textLength="14.6" lengthAdjust="spacingAndGlyphs" fill="#111" stroke="#111" stroke-width="0.22">4.0</text><line x1="41.5" y1="285.60" x2="45.0" y2="285.60" stroke="#1a1a1a" stroke-width="1"/><text x="15.80" y="289.30" font-size="11.3" textLength="23.0" lengthAdjust="spacingAndGlyphs" fill="#111" stroke="#111" stroke-width="0.22">−0.5</text><line x1="41.5" y1="245.29" x2="45.0" y2="245.29" stroke="#1a1a1a" stroke-width="1"/><text x="23.80" y="248.99" font-size="11.3" textLength="15.0" lengthAdjust="spacingAndGlyphs" fill="#111" stroke="#111" stroke-width="0.22">0.0</text><line x1="41.5" y1="204.99" x2="45.0" y2="204.99" stroke="#1a1a1a" stroke-width="1"/><text x="23.80" y="208.69" font-size="11.3" textLength="15.0" lengthAdjust="spacingAndGlyphs" fill="#111" stroke="#111" stroke-width="0.22">0.5</text><line x1="41.5" y1="164.68" x2="45.0" y2="164.68" stroke="#1a1a1a" stroke-width="1"/><text x="23.80" y="168.38" font-size="11.3" textLength="15.0" lengthAdjust="spacingAndGlyphs" fill="#111" stroke="#111" stroke-width="0.22">1.0</text><line x1="41.5" y1="124.37" x2="45.0" y2="124.37" stroke="#1a1a1a" stroke-width="1"/><text x="23.80" y="128.07" font-size="11.3" textLength="15.0" lengthAdjust="spacingAndGlyphs" fill="#111" stroke="#111" stroke-width="0.22">1.5</text><line x1="41.5" y1="84.06" x2="45.0" y2="84.06" stroke="#1a1a1a" stroke-width="1"/><text x="23.80" y="87.76" font-size="11.3" textLength="15.0" lengthAdjust="spacingAndGlyphs" fill="#111" stroke="#111" stroke-width="0.22">2.0</text><line x1="41.5" y1="43.76" x2="45.0" y2="43.76" stroke="#1a1a1a" stroke-width="1"/><text x="23.80" y="47.46" font-size="11.3" textLength="15.0" lengthAdjust="spacingAndGlyphs" fill="#111" stroke="#111" stroke-width="0.22">2.5</text><line x1="41.5" y1="3.45" x2="45.0" y2="3.45" stroke="#1a1a1a" stroke-width="1"/><text x="23.80" y="7.15" font-size="11.3" textLength="15.0" lengthAdjust="spacingAndGlyphs" fill="#111" stroke="#111" stroke-width="0.22">3.0</text><text x="179" y="311.6" font-size="12" textLength="26.5" lengthAdjust="spacingAndGlyphs" fill="#111" font-style="italic" stroke="#111" stroke-width="0.15">i′ − z′</text><text transform="translate(9.6,159.2) rotate(-90)" x="0" y="0" font-size="12.3" textLength="29" lengthAdjust="spacingAndGlyphs" fill="#111" font-style="italic" stroke="#111" stroke-width="0.15">z′ − J</text>
</g></svg></body></html>
